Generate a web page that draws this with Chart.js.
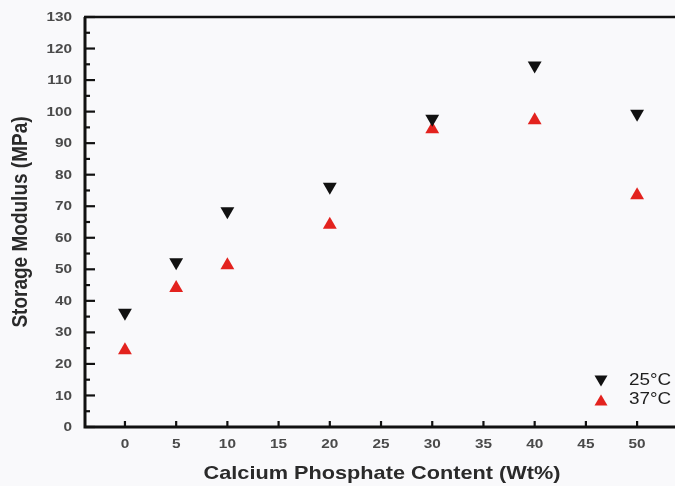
<!DOCTYPE html>
<html>
<head>
<meta charset="utf-8">
<script src="https://cdn.jsdelivr.net/npm/chart.js@4.4.1/dist/chart.umd.min.js"></script>
<style>
  html, body { margin: 0; padding: 0; background: #f9f9fb; }
  #wrap { width: 675px; height: 486px; }
</style>
</head>
<body>
<div id="wrap"><canvas id="c" width="675" height="486"></canvas></div>
<script>
// Calcium phosphate content (wt%)
const contents = [0, 5, 10, 20, 30, 40, 50];
// Storage modulus (MPa) at each temperature
const modulus25 = [36.2, 52.2, 68.4, 76.2, 97.7, 114.6, 99.3];
const modulus37 = [24.3, 44.1, 51.3, 64.1, 94.4, 97.3, 73.5];
const seriesNames = ['25°C', '37°C'];
const xTicks = [0, 5, 10, 15, 20, 25, 30, 35, 40, 45, 50];
const yMajorStep = 10;
const yMinorStep = 5;
const xTitle = 'Calcium Phosphate Content (Wt%)';
const yTitle = 'Storage Modulus (MPa)';

const toPoints = (ys) => contents.map((x, i) => ({ x: x, y: ys[i] }));

const RED = '#e3221e';
const INK = '#111111';
const TICK_TEXT = '#4a4a4a';
const TITLE_TEXT = '#2a2a2a';
const FONT = '"Liberation Sans", Arial, sans-serif';
const WIDEN = 1.18; // lettering is slightly wide

// plot frame in canvas pixels
const AREA = { left: 85, top: 17, right: 675, bottom: 427 };

function wideText(ctx, text, x, y, opts) {
  ctx.save();
  ctx.translate(x, y);
  if (opts.rotate) ctx.rotate(opts.rotate);
  if (opts.rotate) ctx.scale(1, WIDEN); else ctx.scale(WIDEN, 1);
  ctx.font = opts.font;
  ctx.fillStyle = opts.color;
  ctx.textAlign = opts.align || 'center';
  ctx.textBaseline = 'middle';
  ctx.fillText(text, 0, 0);
  ctx.restore();
}

// Pin the plot area to a fixed frame
const fixedAreaPlugin = {
  id: 'fixedArea',
  afterLayout(chart) {
    const a = AREA;
    chart.chartArea.left = a.left;
    chart.chartArea.top = a.top;
    chart.chartArea.right = a.right;
    chart.chartArea.bottom = a.bottom;
    chart.chartArea.width = a.right - a.left;
    chart.chartArea.height = a.bottom - a.top;
    const xs = chart.scales.x, ys = chart.scales.y;
    xs.left = a.left; xs.right = a.right; xs.width = a.right - a.left;
    xs.top = a.bottom; xs.bottom = chart.height; xs.height = chart.height - a.bottom;
    ys.left = 0; ys.right = a.left; ys.width = a.left;
    ys.top = a.top; ys.bottom = a.bottom; ys.height = a.bottom - a.top;
    xs.configure();
    ys.configure();
  }
};

// Axis frame, inward ticks, labels, titles and the in-plot key
const framePlugin = {
  id: 'frame',
  afterDraw(chart) {
    const { ctx, chartArea: a, scales } = chart;
    const xs = scales.x, ys = scales.y;
    ctx.save();
    ctx.strokeStyle = INK;
    ctx.lineCap = 'butt';

    // ticks on y (pointing into the plot)
    ctx.lineWidth = 2.2;
    for (let v = ys.min; v <= ys.max; v += yMinorStep) {
      const y = ys.getPixelForValue(v);
      const major = (v % yMajorStep) === 0;
      const len = major ? 10 : 5;
      ctx.beginPath();
      ctx.moveTo(a.left, y);
      ctx.lineTo(a.left + len, y);
      ctx.stroke();
    }
    // ticks on x
    xs.ticks.forEach(t => {
      const x = xs.getPixelForValue(t.value);
      ctx.beginPath();
      ctx.moveTo(x, a.bottom);
      ctx.lineTo(x, a.bottom - 6);
      ctx.stroke();
    });

    // axis lines and top edge
    ctx.lineWidth = 3;
    ctx.beginPath();
    ctx.moveTo(a.left, a.top);
    ctx.lineTo(a.left, a.bottom);
    ctx.lineTo(a.right, a.bottom);
    ctx.stroke();
    ctx.lineWidth = 2.5;
    ctx.beginPath();
    ctx.moveTo(a.left - 1, a.top);
    ctx.lineTo(a.right, a.top);
    ctx.stroke();
    ctx.restore();

    // tick labels
    const tickFont = 'bold 13px ' + FONT;
    ys.ticks.forEach(t => {
      wideText(ctx, String(t.value), 72, ys.getPixelForValue(t.value) + 0.5,
        { font: tickFont, color: TICK_TEXT, align: 'right' });
    });
    xs.ticks.forEach(t => {
      wideText(ctx, String(t.value), xs.getPixelForValue(t.value), 444,
        { font: tickFont, color: TICK_TEXT, align: 'center' });
    });

    // axis titles
    wideText(ctx, xTitle, (a.left + a.right) / 2 + 2, 474,
      { font: 'bold 18.4px ' + FONT, color: TITLE_TEXT, align: 'center' });
    wideText(ctx, yTitle, 21, (a.top + a.bottom) / 2,
      { font: 'bold 19px ' + FONT, color: TITLE_TEXT, align: 'center', rotate: -Math.PI / 2 });

    // key
    ctx.save();
    const kx = 601, ky = [381, 400];
    const colors = [INK, RED];
    ky.forEach((y, i) => {
      ctx.fillStyle = colors[i];
      ctx.beginPath();
      const w = 6.5, h = 5.5;
      if (i === 0) {
        ctx.moveTo(kx - w, y - h);
        ctx.lineTo(kx + w, y - h);
        ctx.lineTo(kx, y + h);
      } else {
        ctx.moveTo(kx - w, y + h);
        ctx.lineTo(kx + w, y + h);
        ctx.lineTo(kx, y - h);
      }
      ctx.closePath();
      ctx.fill();
    });
    ctx.restore();
    ky.forEach((y, i) => {
      wideText(ctx, seriesNames[i], 629, y, { font: '16px ' + FONT, color: '#1e1e1e', align: 'left' });
    });
  }
};

const bgPlugin = {
  id: 'bg',
  beforeDraw(chart) {
    const ctx = chart.ctx;
    ctx.save();
    ctx.fillStyle = '#f9f9fb';
    ctx.fillRect(0, 0, chart.width, chart.height);
    ctx.restore();
  }
};

new Chart(document.getElementById('c'), {
  type: 'scatter',
  data: {
    datasets: [
      {
        label: seriesNames[0],
        data: toPoints(modulus25),
        pointStyle: 'triangle',
        rotation: 180,
        pointRadius: 8,
        pointHoverRadius: 8,
        backgroundColor: INK,
        borderColor: INK,
        borderWidth: 0
      },
      {
        label: seriesNames[1],
        data: toPoints(modulus37),
        pointStyle: 'triangle',
        pointRadius: 8,
        pointHoverRadius: 8,
        backgroundColor: RED,
        borderColor: RED,
        borderWidth: 0
      }
    ]
  },
  options: {
    responsive: false,
    animation: false,
    devicePixelRatio: 1,
    layout: { padding: 0 },
    plugins: {
      legend: { display: false },
      tooltip: { enabled: false }
    },
    scales: {
      x: {
        type: 'linear',
        min: -3.9,
        max: 53.7,
        afterBuildTicks(scale) {
          scale.ticks = xTicks.map(v => ({ value: v }));
        },
        grid: { display: false, drawTicks: false },
        border: { display: false },
        ticks: { display: false },
        title: { display: false }
      },
      y: {
        min: 0,
        max: 130,
        grid: { display: false, drawTicks: false },
        border: { display: false },
        ticks: { display: false, stepSize: yMajorStep },
        title: { display: false }
      }
    }
  },
  plugins: [bgPlugin, fixedAreaPlugin, framePlugin]
});
</script>
</body>
</html>
